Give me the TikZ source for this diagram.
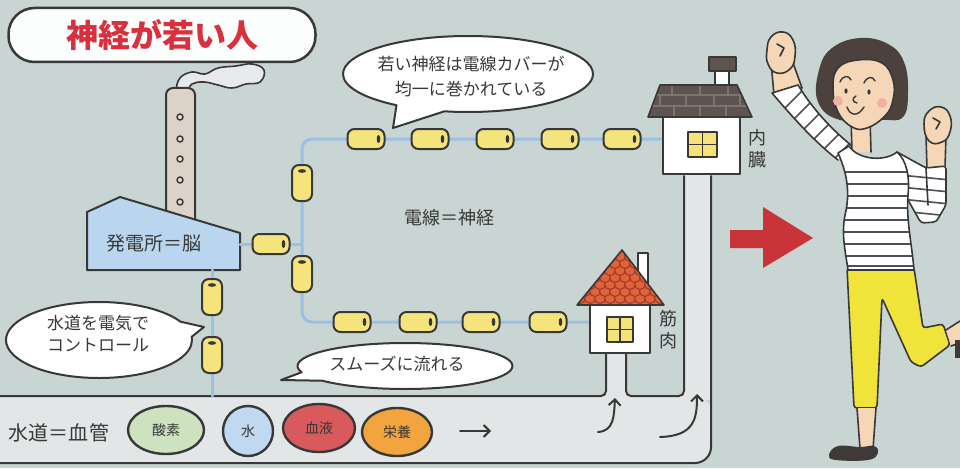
\documentclass[tikz,border=0pt]{standalone}
\usepackage{fontspec}
\usepackage{tikz}
\usepackage{xcolor}
\usetikzlibrary{shapes.geometric,shapes.callouts,arrows.meta}

\newfontfamily\jp{Noto Sans CJK JP}

\definecolor{paper}{HTML}{C8D5D3}
\definecolor{ink}{HTML}{383838}
\definecolor{pipegray}{HTML}{E3E6E7}
\definecolor{wireblue}{HTML}{9CC0E3}
\definecolor{coveryellow}{HTML}{F5E47C}
\definecolor{titlered}{HTML}{D8303C}
\definecolor{arrowred}{HTML}{C9343B}
\definecolor{factoryblue}{HTML}{BAD6EE}
\definecolor{chimneybeige}{HTML}{DCD2C8}
\definecolor{smokegray}{HTML}{E7E9EC}
\definecolor{roofdark}{HTML}{5D5450}
\definecolor{roofbrick}{HTML}{7E746E}
\definecolor{rooforange}{HTML}{E0643A}
\definecolor{scalered}{HTML}{A63C26}
\definecolor{windowyellow}{HTML}{F4E27A}
\definecolor{oxygengreen}{HTML}{CFE2BF}
\definecolor{waterblue}{HTML}{C0D8F0}
\definecolor{bloodred}{HTML}{D95A5C}
\definecolor{foodorange}{HTML}{F2A43E}
\definecolor{skin}{HTML}{F5D6B6}
\definecolor{hair}{HTML}{4C423D}
\definecolor{shoe}{HTML}{3E3A38}
\definecolor{pantsyellow}{HTML}{F0E43A}
\definecolor{stripe}{HTML}{4B5157}
\definecolor{cheek}{HTML}{F2AFA5}

\begin{document}
\begin{tikzpicture}[x=1pt,y=-1pt,line join=round,line cap=round,
  ink_line/.style={draw=ink,line width=2pt},
  body_line/.style={draw=ink,line width=1.6pt},
  wire_line/.style={draw=wireblue,line width=3pt},
  cover_h/.style={rectangle,rounded corners=7pt,draw=ink,line width=2pt,fill=coveryellow,minimum width=37pt,minimum height=20pt,inner sep=0pt,
    path picture={\fill[ink] ([xshift=-6pt]path picture bounding box.east) ellipse (1.8pt and 4pt);}},
  cover_v/.style={rectangle,rounded corners=7pt,draw=ink,line width=2pt,fill=coveryellow,minimum width=20pt,minimum height=36pt,inner sep=0pt,
    path picture={\fill[ink] ([yshift=-6pt]path picture bounding box.north) ellipse (4pt and 1.8pt);}},
  bubble_node/.style={ellipse callout,draw=ink,line width=2pt,fill=white,inner sep=0pt,callout pointer arc=24},
  jp_text/.style={font=\jp\fontsize{17}{25}\selectfont,text=ink,align=center,inner sep=0pt},
  side_label/.style={font=\jp\fontsize{18}{22}\selectfont,text=ink,align=center,inner sep=0pt},
  cell_node/.style={ellipse,draw=ink,line width=2.4pt,inner sep=0pt,font=\jp\fontsize{14}{16}\selectfont,text=ink},
  flow_arrow/.style={draw=ink,line width=2pt,-{Straight Barb[length=6pt,width=12pt]}},
  stripe_line/.style={draw=stripe,line width=1.6pt}
]

\useasboundingbox (0,0) rectangle (960,468);
\fill[paper] (0,0) rectangle (960,468);

% vessels: the main pipe and the two branches up to the houses
\fill[pipegray, rounded corners=16pt] (-20,396) rectangle (711,463);
\fill[pipegray] (606,352) rectangle (626,400);
\fill[pipegray] (684,174) rectangle (711,400);
\draw[ink_line, rounded corners=5pt] (-5,396) -- (606,396) -- (606,354);
\draw[ink_line, rounded corners=5pt] (626,354) -- (626,396) -- (684,396) -- (684,176);
\draw[ink_line, rounded corners=16pt] (711,176) -- (711,463) -- (-5,463);

% heading
\node[rectangle,rounded corners=26pt,draw=ink,line width=2.5pt,fill=white!95!paper,minimum width=307pt,minimum height=54pt,
  font=\jp\bfseries\fontsize{32}{34}\selectfont,text=titlered] (title) at (162,35) {神経が若い人};

% power station
\draw[body_line, fill=smokegray] plot[smooth cycle, tension=0.7] coordinates {(177,90) (180,78) (192,72) (205,74) (218,68) (236,66) (252,64) (264,70) (260,82) (246,84) (232,88) (218,85) (204,82) (192,84) (186,92)};
\draw[ink_line, fill=chimneybeige, rounded corners=7pt] (166,225) -- (166,88) -- (195,88) -- (195,225);
\draw[ink, line width=1.5pt, fill=chimneybeige!70!white] (180,117) circle (3) (180,139) circle (3) (180,159) circle (3) (180,180) circle (3) (180,202) circle (3);
\draw[ink_line, fill=factoryblue] (87,212) -- (120,197) -- (240,233) -- (240,270) -- (87,270) -- cycle;
\node[jp_text, font=\jp\fontsize{19}{22}\selectfont] (brain) at (154,243) {発電所＝脳};

% wires
\coordinate (brain_east) at (240,244);
\coordinate (brain_south) at (212,270);
\coordinate (spine_top) at (302,139);
\coordinate (spine_mid) at (302,244);
\coordinate (spine_bottom) at (302,322);
\coordinate (organ_west) at (663,139);
\coordinate (muscle_west) at (590,322);
\coordinate (vessel_top) at (212,396);
\draw[wire_line, rounded corners=10pt] (organ_west) -- (spine_top) -- (spine_bottom) -- (muscle_west);
\draw[wire_line] (brain_east) -- (spine_mid);
\draw[wire_line] (brain_south) -- (vessel_top);

% wire covers
\node[cover_h] (0) at (271,244) {};
\node[cover_v] (1) at (302,183) {};
\node[cover_v] (2) at (302,274) {};
\node[cover_h] (3) at (366,139) {};
\node[cover_h] (4) at (430,139) {};
\node[cover_h] (5) at (495,139) {};
\node[cover_h] (6) at (560,139) {};
\node[cover_h] (7) at (622,139) {};
\node[cover_h] (8) at (352,322) {};
\node[cover_h] (9) at (418,322) {};
\node[cover_h] (10) at (481,322) {};
\node[cover_h] (11) at (548,322) {};
\node[cover_v] (12) at (212,297) {};
\node[cover_v] (13) at (212,355) {};

% organ house
\draw[body_line, fill=roofdark] (709,57) rectangle (736,71);
\draw[body_line, fill=white] (715,71) rectangle (729,88);
\begin{scope}
  \clip (648,117) -- (660,85) -- (737,85) -- (752,117) -- cycle;
  \fill[roofdark] (640,80) rectangle (760,120);
  \draw[roofbrick, line width=1.2pt] (640,95) -- (760,95) (640,106) -- (760,106)
    (672,85) -- (672,95) (700,85) -- (700,95) (728,85) -- (728,95)
    (660,95) -- (660,106) (686,95) -- (686,106) (714,95) -- (714,106) (740,95) -- (740,106)
    (674,106) -- (674,117) (700,106) -- (700,117) (726,106) -- (726,117);
\end{scope}
\draw[body_line] (648,117) -- (660,85) -- (737,85) -- (752,117) -- cycle;
\draw[body_line, fill=white] (663,117) rectangle (740,174);
\draw[body_line, fill=windowyellow] (688,132) rectangle (717,157);
\draw[body_line] (702.5,132) -- (702.5,157) (688,144.5) -- (717,144.5);
\node[side_label] (organ) at (757,149) {内\\臓};

% muscle house
\draw[body_line, fill=white] (638,284) -- (638,253) -- (648,253) -- (648,284);
\begin{scope}
  \clip (622,250) -- (577,305) -- (664,305) -- cycle;
  \fill[rooforange] (570,245) rectangle (670,310);
  \foreach \y [count=\r] in {305,298,...,256}
    \foreach \x in {570,580,...,670}
      \draw[scalered, line width=1.2pt, fill=rooforange] ({\x+5*mod(\r,2)},\y) circle (5.5);
\end{scope}
\draw[body_line] (622,250) -- (577,305) -- (664,305) -- cycle;
\draw[body_line, fill=white] (590,305) rectangle (650,353);
\draw[body_line, fill=windowyellow] (607,317) rectangle (633,342);
\draw[body_line] (620,317) -- (620,342) (607,329.5) -- (633,329.5);
\node[side_label] (muscle) at (668,330) {筋\\肉};

% speech bubbles
\node[bubble_node, minimum width=250pt, minimum height=76pt, callout absolute pointer={(393,128)}] (bubble_a) at (468,74) {};
\node[jp_text] (bubble_a_text) at (471,77) {若い神経は電線カバーが\\均一に巻かれている};
\node[bubble_node, minimum width=186pt, minimum height=76pt, callout absolute pointer={(204,327)}] (bubble_b) at (99,340) {};
\node[jp_text, font=\jp\fontsize{17}{22}\selectfont] (bubble_b_text) at (98,334) {水道を電気で\\コントロール};
\node[bubble_node, minimum width=215pt, minimum height=46pt, callout absolute pointer={(281,380)}] (bubble_c) at (405,366) {};
\node[jp_text] (bubble_c_text) at (397,364) {スムーズに流れる};

\node[jp_text, font=\jp\fontsize{18}{22}\selectfont] (nerve) at (449,218) {電線＝神経};

% what flows in the pipe
\node[jp_text, font=\jp\fontsize{20}{22}\selectfont] (vessel) at (59,433) {水道＝血管};
\node[cell_node, fill=oxygengreen, minimum width=76pt, minimum height=48pt] (oxygen) at (166,430) {酸素};
\node[cell_node, fill=waterblue, minimum width=50pt, minimum height=50pt] (water) at (248,431) {水};
\node[cell_node, fill=bloodred, minimum width=72pt, minimum height=48pt] (blood) at (319,428) {血液};
\node[cell_node, fill=foodorange, minimum width=70pt, minimum height=48pt] (food) at (397,432) {栄養};
\coordinate (flow_a) at (460,431);
\coordinate (flow_b) at (491,431);
\coordinate (muscle_in_a) at (598,432);
\coordinate (muscle_in_b) at (615,398);
\coordinate (organ_in_a) at (660,437);
\coordinate (organ_in_b) at (697,394);
\draw[flow_arrow] (flow_a) -- (flow_b);
\draw[flow_arrow] (muscle_in_a) .. controls (614,431) and (614,416) .. (muscle_in_b);
\draw[flow_arrow] (organ_in_a) .. controls (695,436) and (697,418) .. (organ_in_b);

% red arrow
\fill[arrowred] (730,230) -- (763,230) -- (763,207) -- (813,238) -- (763,268) -- (763,248) -- (730,248) -- cycle;

% raised arm
\draw[body_line, fill=skin] (771,62) -- (774,95) -- (802,88) -- (792,60);
\draw[body_line, fill=skin] plot[smooth cycle, tension=0.8] coordinates {(767,50) (771,37) (783,32) (793,40) (795,56) (790,69) (777,73) (768,64)};
\draw[body_line] (777,44) -- (784,48) -- (780,56);
\begin{scope}
  \clip (772,93) .. controls (795,120) and (815,142) .. (838,160) -- (852,146) .. controls (830,128) and (812,108) .. (798,85) -- cycle;
  \fill[white] (760,80) rectangle (860,170);
  \draw[stripe_line] (778,115) -- (806,87) (788,125) -- (816,97) (798,135) -- (826,107) (808,145) -- (836,117) (818,155) -- (846,127) (828,165) -- (856,137);
\end{scope}
\draw[body_line] (772,93) .. controls (795,120) and (815,142) .. (838,160) (852,146) .. controls (830,128) and (812,108) .. (798,85) -- (772,93);

% bent arm
\draw[body_line, fill=skin] (926,135) -- (927,170) -- (945,168) -- (946,135);
\draw[body_line, fill=skin] plot[smooth cycle, tension=0.8] coordinates {(924,124) (929,111) (941,107) (950,116) (950,132) (942,142) (929,141)};
\draw[body_line] (933,118) -- (940,122) -- (936,129);
\begin{scope}
  \clip (897,152) -- (926,168) -- (946,166) -- (946,205) -- (936,222) -- (921,223) -- (908,200) -- cycle;
  \fill[white] (880,140) rectangle (960,230);
  \draw[stripe_line] (890,174) -- (950,180) (890,186) -- (950,192) (890,198) -- (950,204) (890,210) -- (950,216);
\end{scope}
\draw[body_line, rounded corners=3pt] (897,152) -- (926,168) -- (946,166) -- (946,205) -- (936,222) -- (921,223) -- (908,200);
\draw[body_line] (926,168) -- (928,205);

% trousers, legs and shoes
\draw[body_line, fill=pantsyellow, rounded corners=3pt] (847,268) -- (914,268) -- (923,328) -- (943,324) -- (950,345) -- (921,367) -- (911,362) -- (882,298) -- (877,408) -- (854,408) -- cycle;
\fill[skin] (857,408) -- (860,449) -- (873,449) -- (876,408) -- cycle;
\draw[body_line] (857,408) -- (860,449) (873,449) -- (876,408);
\fill[shoe] plot[smooth cycle, tension=0.7] coordinates {(829,455) (838,446) (860,447) (874,446) (878,453) (868,460) (836,460)};
\fill[skin] (946,330) -- (960,321) -- (960,343) -- (951,346) -- cycle;
\draw[body_line] (946,330) -- (960,321) (960,343) -- (951,346);
\fill[shoe] (955,340) rectangle (960,358);

% head
\fill[hair] plot[smooth cycle, tension=0.7] coordinates {(818,102) (819,70) (832,48) (860,38) (888,44) (904,62) (908,92) (903,117) (882,120) (840,120)};
\fill[skin] (851,118) -- (852,152) -- (871,152) -- (870,118) -- cycle;
\draw[body_line] (851,118) -- (852,152) (871,152) -- (870,118);
\draw[body_line, fill=skin] plot[smooth cycle, tension=0.7] coordinates {(833,88) (838,68) (858,60) (882,63) (893,80) (893,100) (885,116) (867,128) (852,127) (838,112)};

% striped shirt
\begin{scope}
  \clip (838,153) .. controls (848,175) and (850,195) .. (845,215) .. controls (841,235) and (846,255) .. (848,270) -- (914,270) .. controls (912,245) and (906,220) .. (908,195) .. controls (910,175) and (906,160) .. (897,152) .. controls (885,162) and (858,160) .. (849,146) -- cycle;
  \fill[white] (830,140) rectangle (920,275);
  \draw[stripe_line] (830,172) -- (920,172) (830,184) -- (920,184) (830,196) -- (920,196) (830,208) -- (920,208) (830,220) -- (920,220) (830,232) -- (920,232) (830,244) -- (920,244) (830,256) -- (920,256) (830,266) -- (920,266);
\end{scope}
\draw[body_line] (838,153) .. controls (848,175) and (850,195) .. (845,215) .. controls (841,235) and (846,255) .. (848,270) -- (914,270) .. controls (912,245) and (906,220) .. (908,195) .. controls (910,175) and (906,160) .. (897,152) .. controls (885,162) and (858,160) .. (849,146) -- cycle;

% face
\fill[cheek] (838,101) circle (5) (882,103) circle (5);
\draw[ink, line width=1.4pt] (840,82) .. controls (843,75) and (849,75) .. (851,80)
  (864,83) .. controls (867,76) and (873,76) .. (875,81)
  (856,96) .. controls (852,98) and (852,102) .. (857,103)
  (847,107) .. controls (850,116) and (858,117) .. (864,107);
\fill[ink] (846,91) ellipse (1.6 and 2.6) (869,92) ellipse (1.6 and 2.6);

\end{tikzpicture}
\end{document}
